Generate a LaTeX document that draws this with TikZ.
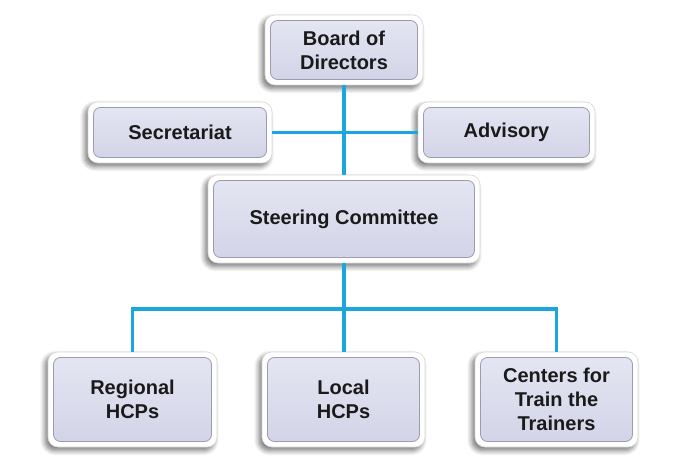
\documentclass[tikz,border=0pt]{standalone}
\usepackage{fontspec}
\setmainfont{Liberation Sans}
\usetikzlibrary{shadows.blur}
\definecolor{conncol}{HTML}{1BA6DE}
\definecolor{innertop}{HTML}{E6E7F3}
\definecolor{innerbot}{HTML}{D1D2E6}
\definecolor{innerline}{HTML}{9C9CB0}
\definecolor{outerline}{HTML}{D8D8DC}
\definecolor{txt}{HTML}{1A1A1A}
\tikzset{
  orgbox/.style={
    rectangle, rounded corners=10pt, fill=white, draw=outerline, line width=0.6pt,
    blur shadow={shadow xshift=-3pt, shadow yshift=-3.5pt, shadow blur steps=8, shadow opacity=55, shadow blur radius=5pt},
    align=center, text=txt, font=\fontsize{20}{24}\selectfont\bfseries,
    inner sep=0pt,
    path picture={
      \draw[draw=innerline, line width=0.8pt, top color=innertop, bottom color=innerbot, rounded corners=7pt]
        ([shift={(5.5pt,-5.5pt)}]path picture bounding box.north west) rectangle
        ([shift={(-5.5pt,5.5pt)}]path picture bounding box.south east);
    }
  },
  conn/.style={draw=conncol, line width=3.3pt}
}
\begin{document}
\begin{tikzpicture}[x=1pt,y=1pt]
\useasboundingbox (0,0) rectangle (680,472);
\node[orgbox, minimum width=158pt, minimum height=70pt] (board) at (344,422) {Board of\\Directors};
\node[orgbox, minimum width=184pt, minimum height=61pt] (sec) at (180,339.5) {Secretariat};
\node[orgbox, minimum width=177pt, minimum height=61pt] (adv) at (506.5,339.5) {Advisory};
\node[orgbox, minimum width=272pt, minimum height=88pt] (steer) at (344,253) {Steering Committee};
\node[orgbox, minimum width=169pt, minimum height=95pt] (reg) at (132.5,72.5) {Regional\\HCPs};
\node[orgbox, minimum width=163pt, minimum height=95pt] (loc) at (343.5,72.5) {Local\\HCPs};
\node[orgbox, minimum width=163pt, minimum height=95pt] (ctr) at (556.5,72.5) {Centers for\\Train the\\Trainers};
\coordinate (bus) at (344,163);
\draw[conn] (board.south) -- (steer.north);
\draw[conn] (sec.east) -- (adv.west);
\draw[conn] (steer.south) -- (bus);
\draw[conn] (reg.north) |- (bus) -| (ctr.north);
\draw[conn] (bus) -- (bus |- loc.north);
\end{tikzpicture}
\end{document}
